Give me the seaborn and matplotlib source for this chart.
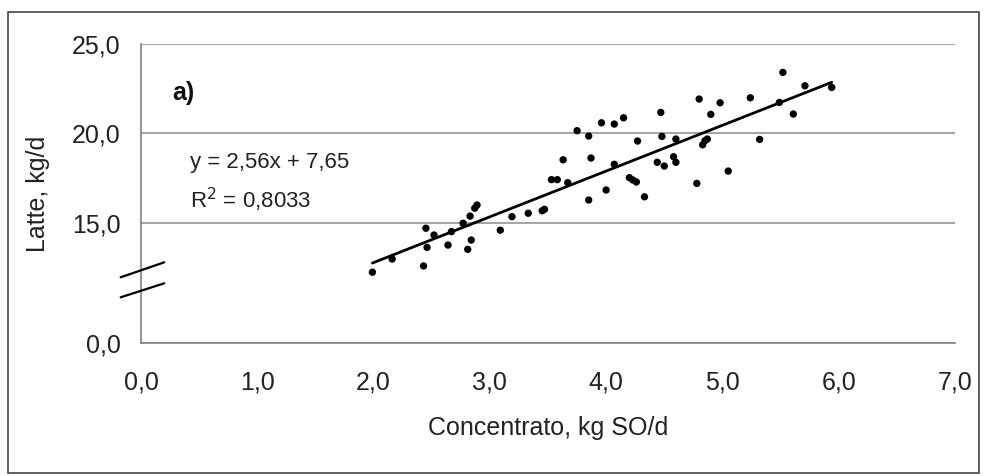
import numpy as np
import pandas as pd
import seaborn as sns
import matplotlib.pyplot as plt
from matplotlib.patches import Rectangle

# concentrate (kg SO/d) vs milk (kg/d)
concentrato = [1.99, 2.16, 2.45, 2.43, 2.46, 2.52, 2.64, 2.67, 2.77, 2.81,
               2.84, 2.83, 2.87, 2.89, 3.09, 3.19, 3.33, 3.45, 3.47, 3.53,
               3.58, 3.67, 3.63, 3.75, 3.85, 3.87, 3.85, 3.96, 4.00, 4.07,
               4.15, 4.07, 4.27, 4.20, 4.23, 4.26, 4.33, 4.44, 4.50, 4.47,
               4.48, 4.58, 4.60, 4.60, 4.80, 4.78, 4.83, 4.85, 4.87, 4.90,
               4.98, 5.05, 5.24, 5.32, 5.52, 5.49, 5.61, 5.71, 5.94]
latte = [12.23, 12.97, 14.69, 12.58, 13.62, 14.31, 13.75, 14.50, 14.97, 13.51,
         14.03, 15.37, 15.81, 15.99, 14.58, 15.34, 15.53, 15.67, 15.75, 17.41,
         17.41, 17.24, 18.52, 20.15, 19.85, 18.62, 16.27, 20.59, 16.83, 20.52,
         20.87, 18.27, 19.57, 17.52, 17.39, 17.28, 16.45, 18.38, 18.17, 21.17,
         19.83, 18.69, 18.38, 19.68, 21.92, 17.20, 19.36, 19.59, 19.68, 21.06,
         21.71, 17.89, 21.99, 19.66, 23.41, 21.73, 21.08, 22.66, 22.57]

slope = 2.56
intercept = 7.65
r2_label = "0,8033"

x_ticks = [0, 1, 2, 3, 4, 5, 6, 7]
x_ticklabels = ["0,0", "1,0", "2,0", "3,0", "4,0", "5,0", "6,0", "7,0"]
# broken axis: the bottom of the axis stands for 0
y_bottom = 8.27
y_ticks = [y_bottom, 15, 20, 25]
y_ticklabels = ["0,0", "15,0", "20,0", "25,0"]

df = pd.DataFrame({"x": concentrato, "y": latte})
xs = np.array([min(concentrato), max(concentrato)])
fit = pd.DataFrame({"x": xs, "y": slope * xs + intercept})

sns.set_style("white")
plt.rcParams['font.family'] = ['Liberation Sans', 'DejaVu Sans']

fig = plt.figure(figsize=(9.84, 4.76), dpi=100)
ax = fig.add_axes([0.1433, 0.2794, 0.8272, 0.6282])

sns.scatterplot(data=df, x="x", y="y", ax=ax, color="black", s=28,
                edgecolor="none", zorder=3)
sns.lineplot(data=fit, x="x", y="y", ax=ax, color="black", lw=2.0, zorder=4)

ax.set_xlim(0, 7)
ax.set_ylim(y_bottom, 25)
ax.set_xticks(x_ticks)
ax.set_xticklabels(x_ticklabels)
ax.set_yticks(y_ticks)
ax.set_yticklabels(y_ticklabels)

ax.grid(axis="y", color="#a6a6a6", lw=1.5)
ax.grid(axis="x", visible=False)
for s in ["top", "right"]:
    ax.spines[s].set_visible(False)
for s in ["left", "bottom"]:
    ax.spines[s].set_color("#808080")
    ax.spines[s].set_linewidth(1.2)
ax.tick_params(axis="both", colors="#808080", labelcolor="#222222",
               labelsize=18, length=5.5, width=1.2, direction="out")
ax.tick_params(axis="x", pad=14)
ax.tick_params(axis="y", pad=9)

ax.set_xlabel("Concentrato, kg SO/d", fontsize=18, color="#222222", labelpad=16)
ax.set_ylabel("Latte, kg/d", fontsize=18, color="#222222", labelpad=16)

ax.text(0.038, 0.836, "a)", transform=ax.transAxes, fontsize=18,
        fontweight="bold", va="center", ha="left", color="#111111")
ax.text(0.06, 0.605, "y = 2,56x + 7,65", transform=ax.transAxes, fontsize=16,
        va="center", ha="left", color="#222222")
ax.text(0.06, 0.48, "R$^2$ = " + r2_label, transform=ax.transAxes, fontsize=16,
        va="center", ha="left", color="#222222")

# axis break marks
for y0, y1 in [(0.2197, 0.2699), (0.1528, 0.1997)]:
    ax.plot([-0.025, 0.0286], [y0, y1], transform=ax.transAxes,
            color="black", lw=1.6, clip_on=False, zorder=5)

# outer frame
fig.patches.append(Rectangle((8 / 984, 3 / 476), 971 / 984, 461 / 476,
                             transform=fig.transFigure, fill=False,
                             edgecolor="#444444", lw=1.2))

fig.savefig("out.png", dpi=100)
